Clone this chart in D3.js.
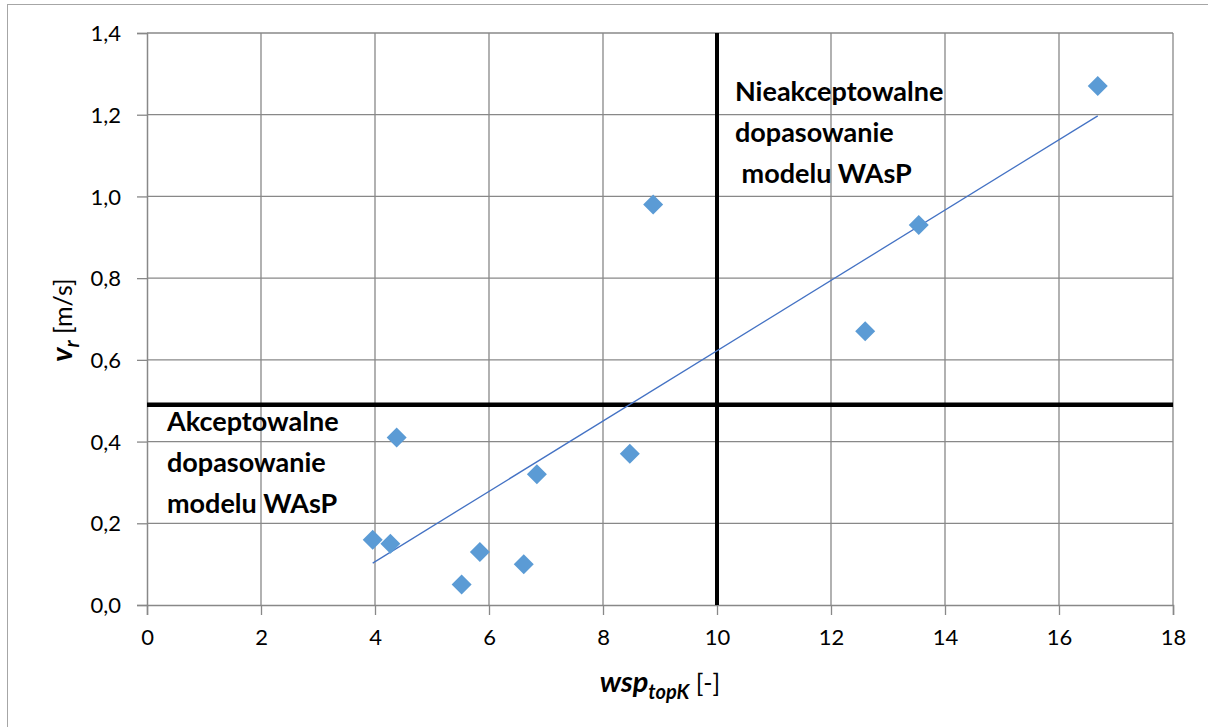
<!DOCTYPE html>
<html>
<head>
<meta charset="utf-8">
<script src="https://cdn.jsdelivr.net/npm/d3@7"></script>
<style>
  body { margin: 0; background: #fff; }
  svg text { font-family: Lato, "Open Sans", sans-serif; fill: #000; }
</style>
</head>
<body>
<div id="chart"></div>
<script>
// measured points: wsp_topK [-] vs v_r [m/s]
var wspValues = [3.96, 4.27, 4.38, 5.52, 5.84, 6.61, 6.84, 8.47, 8.88, 12.6, 13.54, 16.68];
var vrValues = [0.16, 0.15, 0.41, 0.05, 0.13, 0.10, 0.32, 0.37, 0.98, 0.67, 0.93, 1.27];
var xTicks = [0, 2, 4, 6, 8, 10, 12, 14, 16, 18];
var yTicks = [0, 0.2, 0.4, 0.6, 0.8, 1.0, 1.2, 1.4];
var limitX = 10, limitY = 0.49;
var goodLabel = ["Akceptowalne", "dopasowanie", "modelu WAsP"];
var badLabel = ["Nieakceptowalne", "dopasowanie", "\u00a0modelu WAsP"];

(function () {
    "use strict";

    var W = 1208, H = 727,
        m = {left: 147, top: 33, right: 1173, bottom: 605};

    var svg = d3.select("#chart").append("svg")
        .attr("width", W).attr("height", H);

    svg.append("rect")
        .attr("x", 7.5).attr("y", 4.5)
        .attr("width", 1220).attr("height", 740)
        .attr("fill", "#fff").attr("stroke", "#a6a6a6");

    var x = d3.scaleLinear().domain([0, 18]).range([m.left, m.right]),
        y = d3.scaleLinear().domain([0, 1.4]).range([m.bottom, m.top]);

    var fmt = function (d) { return d3.format(".1f")(d).replace(".", ","); };

    // grid
    var grid = svg.append("g").attr("stroke", "#888").attr("stroke-width", 1.3);
    grid.selectAll(".gx").data(xTicks.slice(1)).enter().append("line")
        .attr("x1", function (d) { return x(d); }).attr("x2", function (d) { return x(d); })
        .attr("y1", m.top).attr("y2", m.bottom);
    grid.selectAll(".gy").data(yTicks.slice(1)).enter().append("line")
        .attr("y1", function (d) { return y(d); }).attr("y2", function (d) { return y(d); })
        .attr("x1", m.left).attr("x2", m.right);

    // axes
    var xAxis = svg.append("g")
        .attr("transform", "translate(0," + m.bottom + ")")
        .call(d3.axisBottom(x).tickValues(xTicks).tickSize(10).tickPadding(14));
    var yAxis = svg.append("g")
        .attr("transform", "translate(" + m.left + ",0)")
        .call(d3.axisLeft(y).tickValues(yTicks).tickFormat(fmt).tickSize(10).tickPadding(16));

    [xAxis, yAxis].forEach(function (a) {
        a.select(".domain").attr("stroke", "#888").attr("stroke-width", 1.5);
        a.selectAll(".tick line").attr("stroke", "#888").attr("stroke-width", 1.3);
        a.selectAll("text").style("font-size", "22px").attr("fill", "#000")
            .style("font-family", "Lato, 'Open Sans', sans-serif");
    });
    yAxis.selectAll("text").attr("dy", "0.35em");

    // limit lines
    svg.append("line")
        .attr("x1", m.left).attr("x2", m.right)
        .attr("y1", y(limitY)).attr("y2", y(limitY))
        .attr("stroke", "#000").attr("stroke-width", 4.5);
    svg.append("line")
        .attr("x1", x(limitX)).attr("x2", x(limitX))
        .attr("y1", m.top).attr("y2", m.bottom)
        .attr("stroke", "#000").attr("stroke-width", 4);

    // linear trend (least squares)
    var mx = d3.mean(wspValues), my = d3.mean(vrValues);
    var sxy = d3.sum(wspValues, function (d, i) { return (d - mx) * (vrValues[i] - my); }),
        sxx = d3.sum(wspValues, function (d) { return (d - mx) * (d - mx); });
    var slope = sxy / sxx, icpt = my - slope * mx;
    var x0 = d3.min(wspValues), x1 = d3.max(wspValues);
    svg.append("line")
        .attr("x1", x(x0)).attr("y1", y(icpt + slope * x0))
        .attr("x2", x(x1)).attr("y2", y(icpt + slope * x1))
        .attr("stroke", "#4472c4").attr("stroke-width", 1.3);

    // points
    svg.selectAll(".pt").data(wspValues).enter().append("path")
        .attr("d", "M0,-10L10,0L0,10L-10,0Z")
        .attr("transform", function (d, i) {
            return "translate(" + x(d) + "," + y(vrValues[i]) + ")";
        })
        .attr("fill", "#5b9bd5");

    // annotations
    function block(lines, px, py) {
        var t = svg.append("text")
            .attr("x", px).attr("y", py)
            .style("font-size", "27px").style("font-weight", "bold");
        lines.forEach(function (s, i) {
            t.append("tspan").attr("x", px).attr("y", py + i * 41).text(s);
        });
    }
    block(goodLabel, 167, 431);
    block(badLabel, 735, 101);

    // axis titles
    var xt = svg.append("text")
        .attr("x", 660).attr("y", 692)
        .attr("text-anchor", "middle")
        .style("font-size", "25px");
    xt.append("tspan").text("wsp").style("font-weight", "bold").style("font-style", "italic").style("font-size", "29px");
    xt.append("tspan").text("topK").attr("dy", 7).style("font-weight", "bold").style("font-style", "italic").style("font-size", "20px");
    xt.append("tspan").text(" [-]").attr("dy", -7);

    var yt = svg.append("text")
        .attr("transform", "translate(72,320) rotate(-90)")
        .attr("text-anchor", "middle")
        .style("font-size", "25px");
    yt.append("tspan").text("v").style("font-weight", "bold").style("font-style", "italic").style("font-size", "29px");
    yt.append("tspan").text("r").attr("dy", 7).style("font-weight", "bold").style("font-style", "italic").style("font-size", "20px");
    yt.append("tspan").text(" [m/s]").attr("dy", -7);
}());
</script>
</body>
</html>
